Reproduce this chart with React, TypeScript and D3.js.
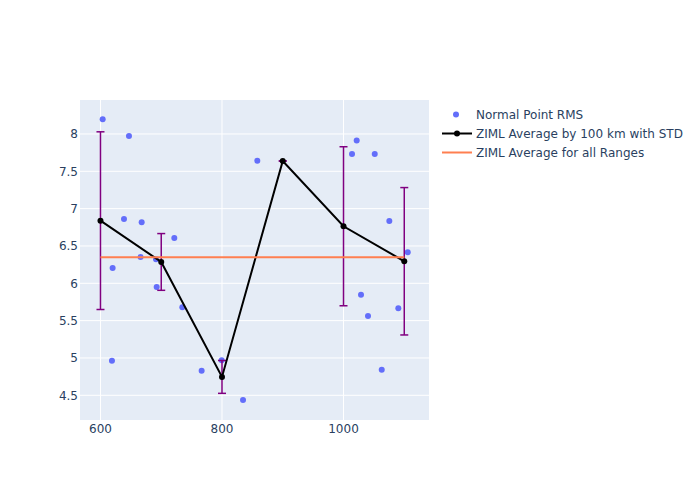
import React from 'react';
import { scaleLinear, line } from 'd3';

// Normal point RMS samples (range km, rms)
const pointRange = [603.6, 646.9, 638.7, 667.8, 721.5, 666, 691.4, 620, 692.5, 734.7, 618.9, 766.5, 799.5, 834.6, 858.1, 1021.7, 1014, 1051.4, 1075.4, 1105.7, 1028.8, 1040.3, 1090.2, 1062.9];
const pointRms = [8.197, 7.973, 6.862, 6.817, 6.607, 6.353, 6.322, 6.205, 5.951, 5.679, 4.964, 4.83, 4.969, 4.438, 7.643, 7.911, 7.732, 7.732, 6.835, 6.416, 5.848, 5.563, 5.666, 4.843];

// ZIML average by 100 km bins
const binRange = [600, 700, 800, 900, 1000, 1100];
const binAvg = [6.839, 6.286, 4.746, 7.638, 6.764, 6.295];
const binStd = [1.19, 0.38, 0.22, 0, 1.065, 0.987];

// ZIML overall average
const overallRange = [600, 1100];
const overallAvg = [6.349, 6.349];

const xTicks = [600, 800, 1000];
const yTicks = [4.5, 5, 5.5, 6, 6.5, 7, 7.5, 8];

const legendLabels = ['Normal Point RMS', 'ZIML Average by 100 km with STD', 'ZIML Average for all Ranges'];

const App = () => {
    const width = 700;
    const height = 500;
    const margin = { top: 100, left: 80 };
    const plotW = 349;
    const plotH = 320;

    const x = scaleLinear().domain([566.3, 1140.7]).range([margin.left, margin.left + plotW]);
    const y = scaleLinear().domain([4.169, 8.455]).range([margin.top + plotH, margin.top]);

    const avgLine = line<number>()
        .x((d, i) => x(binRange[i]))
        .y(d => y(d));

    const overallLine = line<number>()
        .x((d, i) => x(overallRange[i]))
        .y(d => y(d));

    const font = '"DejaVu Sans", verdana, arial, sans-serif';
    const textColor = '#2a3f5f';

    return (
        <svg width={width} height={height} style={{ position: 'absolute', left: 0, top: 0, background: 'white' }}>
            <rect x={margin.left} y={margin.top} width={plotW} height={plotH} fill="#e5ecf6" />
            <g>
                {xTicks.map(t => (
                    <line key={'gx' + t} x1={x(t)} x2={x(t)} y1={margin.top} y2={margin.top + plotH} stroke="white" strokeWidth={1} />
                ))}
                {yTicks.map(t => (
                    <line key={'gy' + t} x1={margin.left} x2={margin.left + plotW} y1={y(t)} y2={y(t)} stroke="white" strokeWidth={1} />
                ))}
            </g>
            <g fontFamily={font} fontSize={12} fill={textColor}>
                {xTicks.map(t => (
                    <text key={'tx' + t} x={x(t)} y={margin.top + plotH + 13} textAnchor="middle">{t}</text>
                ))}
                {yTicks.map(t => (
                    <text key={'ty' + t} x={margin.left - 2} y={y(t) + 4.5} textAnchor="end">{t}</text>
                ))}
            </g>
            <g>
                {pointRange.map((r, i) => (
                    <circle key={'p' + i} cx={x(r)} cy={y(pointRms[i])} r={3} fill="#636efa" />
                ))}
            </g>
            <g stroke="purple" strokeWidth={1.5}>
                {binRange.map((r, i) => (
                    <g key={'e' + i}>
                        <line x1={x(r)} x2={x(r)} y1={y(binAvg[i] + binStd[i])} y2={y(binAvg[i] - binStd[i])} />
                        <line x1={x(r) - 4} x2={x(r) + 4} y1={y(binAvg[i] + binStd[i])} y2={y(binAvg[i] + binStd[i])} />
                        <line x1={x(r) - 4} x2={x(r) + 4} y1={y(binAvg[i] - binStd[i])} y2={y(binAvg[i] - binStd[i])} />
                    </g>
                ))}
            </g>
            <path d={avgLine(binAvg) || ''} fill="none" stroke="black" strokeWidth={2} />
            {binRange.map((r, i) => (
                <circle key={'m' + i} cx={x(r)} cy={y(binAvg[i])} r={3} fill="black" />
            ))}
            <path d={overallLine(overallAvg) || ''} fill="none" stroke="#ff7f50" strokeWidth={2} />

            <g fontFamily={font} fontSize={12} fill={textColor}>
                <circle cx={456} cy={114.5} r={3} fill="#636efa" />
                <line x1={442} x2={472} y1={133.5} y2={133.5} stroke="black" strokeWidth={2} />
                <circle cx={457} cy={133.5} r={3} fill="black" />
                <line x1={442} x2={472} y1={152.5} y2={152.5} stroke="#ff7f50" strokeWidth={2} />
                {legendLabels.map((l, i) => (
                    <text key={l} x={476} y={119 + i * 19}>{l}</text>
                ))}
            </g>
        </svg>
    );
};

export default App;
